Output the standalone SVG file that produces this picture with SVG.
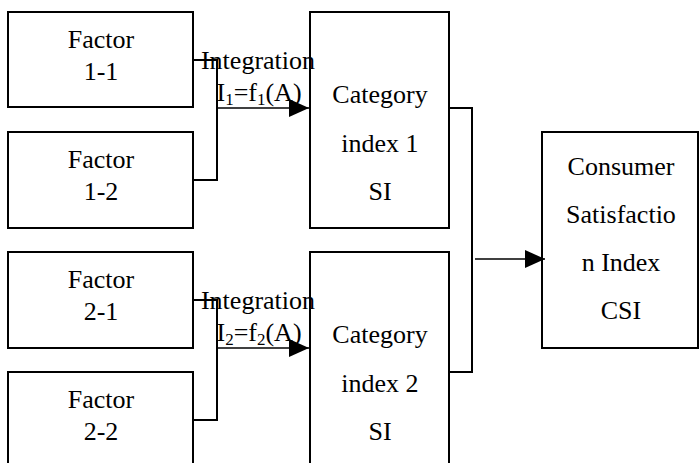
<svg xmlns="http://www.w3.org/2000/svg" width="699" height="463" viewBox="0 0 699 463">
<style>
.box{fill:#fff;stroke:#000;stroke-width:2}
.t{font-family:"Liberation Serif","Times New Roman",serif;font-size:26px;fill:#000;text-anchor:middle}
.c{fill:none;stroke:#000;stroke-width:2}
.a{fill:none;stroke:#000;stroke-width:1.5}
.sub{font-size:17px}
</style>
<defs>
<marker id="ah" markerUnits="userSpaceOnUse" markerWidth="21" markerHeight="19" refX="20" refY="9" orient="auto" viewBox="0 0 21 19">
<path d="M0,0 L20,9 L0,18 z" fill="#000"/>
</marker>
</defs>
<rect width="699" height="463" fill="#fff"/>
<g id="f11"><rect class="box" x="8" y="12" width="185" height="95"/><text class="t" x="101" y="48">Factor</text><text class="t" x="101" y="80">1-1</text></g>
<g id="f12"><rect class="box" x="8" y="132" width="185" height="96"/><text class="t" x="101" y="168">Factor</text><text class="t" x="101" y="200">1-2</text></g>
<g id="f21"><rect class="box" x="8" y="252" width="185" height="96"/><text class="t" x="101" y="288">Factor</text><text class="t" x="101" y="320">2-1</text></g>
<g id="f22"><rect class="box" x="8" y="372" width="185" height="120"/><text class="t" x="101" y="408">Factor</text><text class="t" x="101" y="440">2-2</text></g>
<g id="cat1"><rect class="box" x="310" y="12" width="139" height="216"/><text class="t" x="380" y="103">Category</text><text class="t" x="380" y="152">index 1</text><text class="t" x="380" y="200">SI</text></g>
<g id="cat2"><rect class="box" x="310" y="252" width="139" height="240"/><text class="t" x="380" y="343">Category</text><text class="t" x="380" y="392">index 2</text><text class="t" x="380" y="440">SI</text></g>
<g id="csi"><rect class="box" x="542" y="132" width="156" height="216"/><text class="t" x="621" y="175">Consumer</text><text class="t" x="621" y="223">Satisfactio</text><text class="t" x="621" y="271">n Index</text><text class="t" x="621" y="319">CSI</text></g>
<g id="connectors">
<path class="c" d="M193,60 H217 V180 H193"/>
<path class="a" d="M217,108 H309" marker-end="url(#ah)"/>
<path class="c" d="M193,300 H217 V420 H193"/>
<path class="a" d="M217,348 H309" marker-end="url(#ah)"/>
<path class="c" d="M449,108 H472 V372 H449"/>
<path class="a" d="M475,259 H545" marker-end="url(#ah)"/>
</g>
<g id="lbl1"><text class="t" x="258" y="69">Integration</text><text class="t" x="259" y="101">I<tspan class="sub" dy="4">1</tspan><tspan dy="-4">=f</tspan><tspan class="sub" dy="4">1</tspan><tspan dy="-4">(A)</tspan></text></g>
<g id="lbl2"><text class="t" x="258" y="309">Integration</text><text class="t" x="259" y="341">I<tspan class="sub" dy="4">2</tspan><tspan dy="-4">=f</tspan><tspan class="sub" dy="4">2</tspan><tspan dy="-4">(A)</tspan></text></g>
</svg>
